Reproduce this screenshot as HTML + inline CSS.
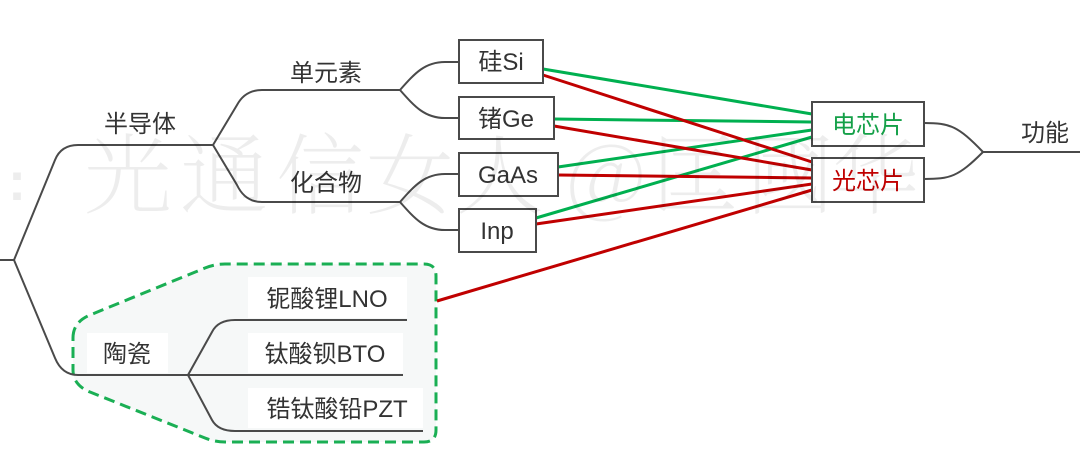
<!DOCTYPE html>
<html><head><meta charset="utf-8"><style>
html,body{margin:0;padding:0;background:#fff;}
svg{display:block;}
.t{font-family:"Liberation Sans","Noto Sans CJK SC",sans-serif;font-size:24px;fill:#333;text-anchor:middle;}
.w{font-family:"Noto Serif CJK SC","Liberation Serif",serif;font-size:88px;fill:#000;fill-opacity:0.07;text-anchor:middle;font-weight:200;}
</style></head><body>
<svg width="1080" height="461" viewBox="0 0 1080 461" xmlns="http://www.w3.org/2000/svg">
<!-- ceramic group background -->
<path d="M73,338 Q73,322 90,315 L205,268 Q215,264 225,264 L424,264 Q436,264 436,276 L436,430 Q436,442 424,442 L225,442 Q215,442 205,438 L90,392 Q73,385 73,370 Z" fill="#f6f8f8" stroke="#1aaf54" stroke-width="3" stroke-dasharray="11 6"/>
<rect x="87" y="333" width="81" height="40" fill="#fff"/>
<rect x="248" y="277" width="159" height="41" fill="#fff"/>
<rect x="248" y="333" width="155" height="40" fill="#fff"/>
<rect x="248" y="388" width="175" height="40" fill="#fff"/>

<g fill="none" stroke="#4a4a4a" stroke-width="2">
<path d="M0,260 L14,260"/>
<path d="M14,260 L55,160 Q61,145 78,145 L213,145"/>
<path d="M14,260 L55,358 Q62,375 78,375 L190,375"/>
<path d="M213,145 L237,105 Q245,90 262,90 L400,90"/>
<path d="M213,145 L237,185 Q245,202 262,202 L400,202"/>
<path d="M400,90 C415,73 425,62 445,62 L458,62"/>
<path d="M400,90 C415,107 425,118 445,118 L458,118"/>
<path d="M400,202 C415,185 425,174 445,174 L458,174"/>
<path d="M400,202 C415,219 425,230 445,230 L458,230"/>
<path d="M188,375 L212,332 Q218,320 235,320 L407,320"/>
<path d="M188,375 L403,375"/>
<path d="M188,375 L212,420 Q218,431 235,431 L423,431"/>
<path d="M924,123 C950,123 958,126 983,152"/>
<path d="M924,179 C950,179 958,177 983,152"/>
<path d="M983,152 L1080,152"/>
</g>

<!-- connections -->
<g stroke-width="3" fill="none">
<line x1="543" y1="69" x2="812" y2="114" stroke="#00b050"/>
<line x1="554" y1="119" x2="812" y2="122" stroke="#00b050"/>
<line x1="558" y1="167" x2="812" y2="130" stroke="#00b050"/>
<line x1="536" y1="218" x2="812" y2="137" stroke="#00b050"/>
<line x1="543" y1="75" x2="812" y2="162" stroke="#c00000"/>
<line x1="554" y1="126" x2="812" y2="170" stroke="#c00000"/>
<line x1="558" y1="175" x2="812" y2="178" stroke="#c00000"/>
<line x1="536" y1="224" x2="812" y2="184" stroke="#c00000"/>
<line x1="437" y1="301" x2="812" y2="190" stroke="#c00000"/>
</g>

<!-- boxes -->
<g fill="#fff" stroke="#4a4a4a" stroke-width="2">
<rect x="459" y="40" width="84" height="43"/>
<rect x="459" y="97" width="95" height="42"/>
<rect x="459" y="153" width="99" height="43"/>
<rect x="459" y="209" width="77" height="43"/>
<rect x="812" y="102" width="112" height="44"/>
<rect x="812" y="158" width="112" height="44"/>
</g>

<!-- labels -->
<text class="t" x="326" y="81">单元素</text>
<text class="t" x="140" y="132">半导体</text>
<text class="t" x="326" y="191">化合物</text>
<text class="t" x="501" y="70">硅Si</text>
<text class="t" x="506" y="127">锗Ge</text>
<text class="t" x="508" y="183">GaAs</text>
<text class="t" x="497" y="239">Inp</text>
<text class="t" x="868" y="133" style="fill:#14a048">电芯片</text>
<text class="t" x="868" y="189" style="fill:#c00000">光芯片</text>
<text class="t" x="1045" y="141">功能</text>
<text class="t" x="127" y="362">陶瓷</text>
<text class="t" x="327" y="307">铌酸锂LNO</text>
<text class="t" x="325" y="362">钛酸钡BTO</text>
<text class="t" x="337" y="417">锆钛酸铅PZT</text>

<!-- watermark -->
<text x="17" y="200" style="font-family:'Liberation Sans',sans-serif;font-size:55px;font-weight:bold;fill:#000;fill-opacity:0.07;text-anchor:middle;">:</text>
<text class="w" x="128" y="207">光</text>
<text class="w" x="224" y="207">通</text>
<text class="w" x="320" y="207">信</text>
<text class="w" x="410" y="207">女</text>
<text class="w" x="500" y="207">人</text>
<text class="w" x="606" y="207">@</text>
<text class="w" x="695" y="207">匡</text>
<text class="w" x="790" y="207">國</text>
<text class="w" x="875" y="207">华</text>
</svg>
</body></html>
